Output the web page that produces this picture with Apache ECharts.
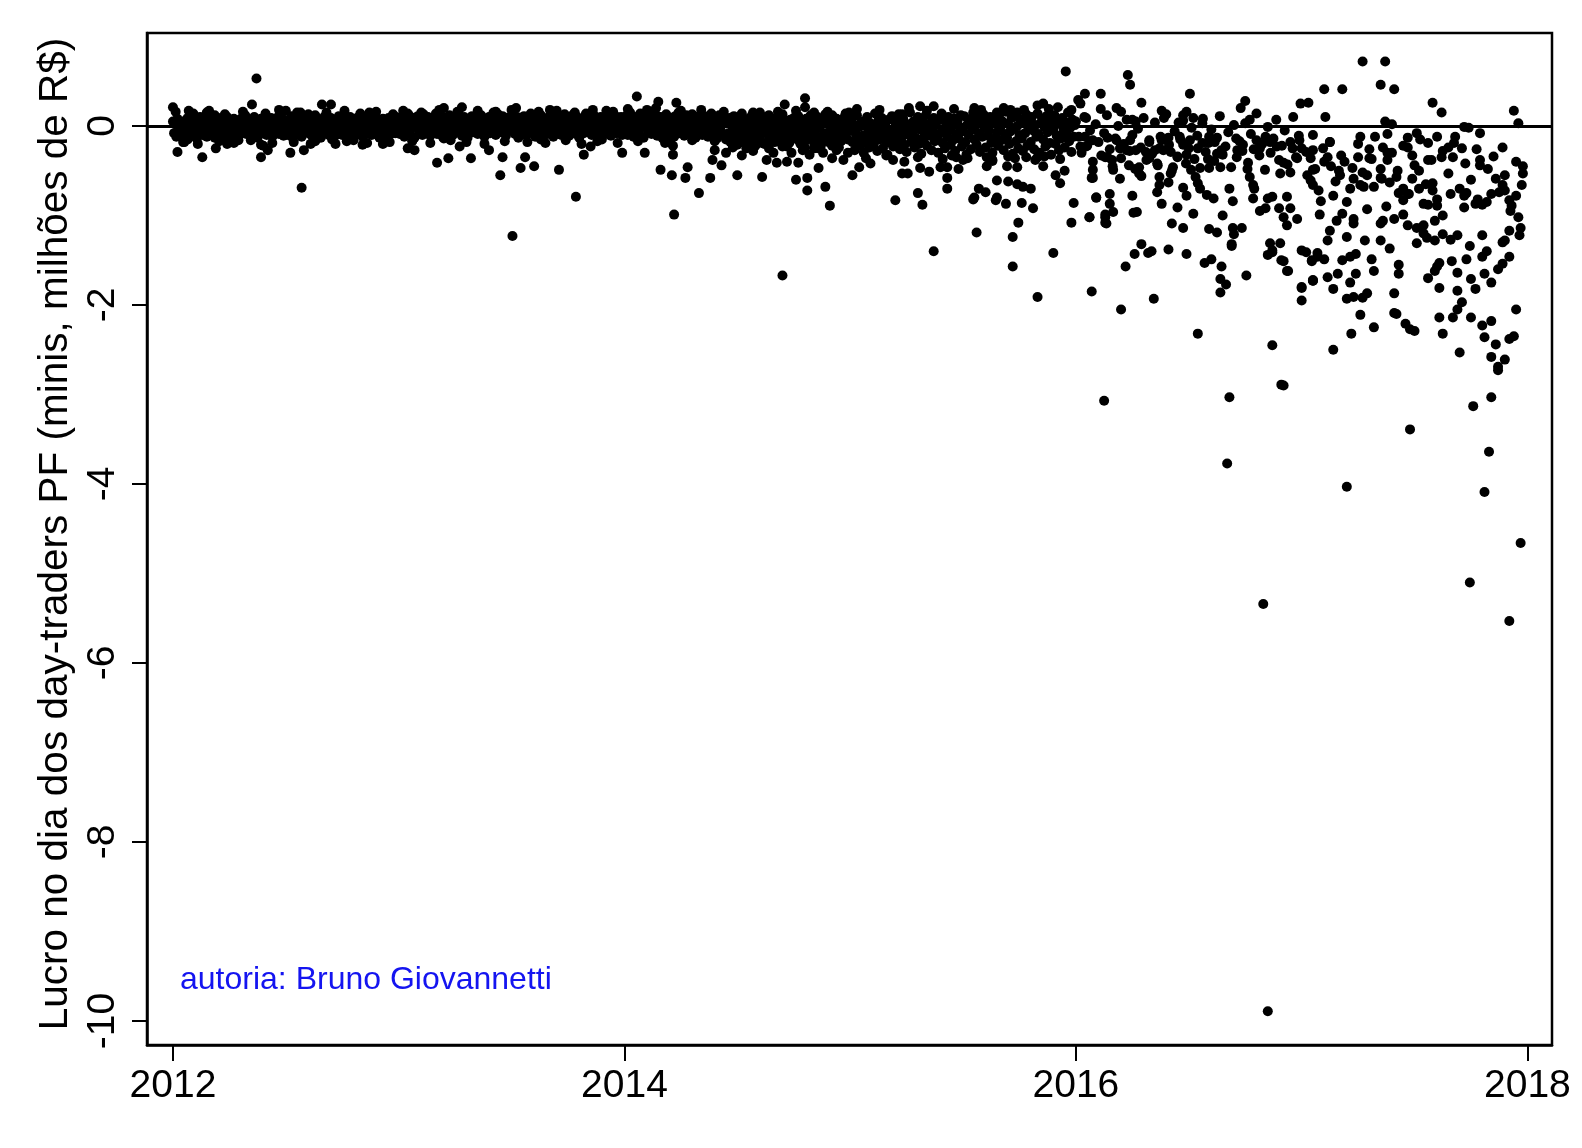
<!DOCTYPE html>
<html><head><meta charset="utf-8">
<script src="https://cdn.jsdelivr.net/npm/echarts@6/dist/echarts.min.js"></script>
<style>html,body{margin:0;padding:0;background:#fff}#c{width:1582px;height:1148px}</style>
</head><body><div id="c"></div>
<script>
const xTicks=[2012,2014,2016,2018];
const yTicks=[0,-2,-4,-6,-8,-10];
const yTitle='Lucro no dia dos day-traders PF (minis, milhões de R$)';
const credit='autoria: Bruno Giovannetti';

const band2012=[
[2012,0.05],[2012.005,-0.08],[2012.01,0.02],[2012.015,-0.12],[2012.02,0.08],[2012.025,-0.03],[2012.03,-0.10],[2012.035,0.04],[2012.04,-0.06],[2012.045,0.00],
[2012.05,-0.13],[2012.055,0.06],[2012.06,-0.04],[2012.065,0.09],[2012.07,-0.09],[2012.075,0.01],[2012.08,-0.02],[2012.085,-0.11],[2012.09,0.07],[2012.095,-0.05],
[2012.1,0.03],[2012.105,-0.14],[2012.11,0.05],[2012.115,-0.07],[2012.12,0.10],[2012.125,-0.02],[2012.13,-0.10],[2012.135,0.04],[2012.14,-0.06],[2012.145,0.08],
[2012.15,-0.12],[2012.155,0.02],[2012.16,-0.04],[2012.165,0.11],[2012.17,-0.08],[2012.175,0.00],[2012.18,0.06],[2012.185,-0.13],[2012.19,0.03],[2012.195,-0.05],
[2012.2,0.09],[2012.205,-0.09],[2012.21,0.01],[2012.215,-0.02],[2012.22,0.07],[2012.225,-0.11],[2012.23,0.04],[2012.235,-0.06],[2012.24,0.10],[2012.245,-0.03],
[2012.25,-0.14],[2012.255,0.05],[2012.26,-0.08],[2012.265,0.02],[2012.27,0.08],[2012.275,-0.10],[2012.28,-0.01],[2012.285,0.06],[2012.29,-0.12],[2012.295,0.03],
[2012.3,-0.05],[2012.305,0.09],[2012.31,-0.07],[2012.315,0.00],[2012.32,0.12],[2012.325,-0.09],[2012.33,0.04],[2012.335,-0.03],[2012.34,0.07],[2012.345,-0.11],
[2012.35,0.02],[2012.355,-0.06],[2012.36,0.10],[2012.365,-0.02],[2012.37,0.05],[2012.375,-0.13],[2012.38,0.01],[2012.385,-0.04],[2012.39,0.08],[2012.395,-0.08],
[2012.4,0.03],[2012.405,-0.01],[2012.41,0.11],[2012.415,-0.10],[2012.42,0.06],[2012.425,-0.05],[2012.43,0.00],[2012.435,0.09],[2012.44,-0.12],[2012.445,0.04],
[2012.45,-0.07],[2012.455,0.07],[2012.46,-0.03],[2012.465,0.10],[2012.47,-0.09],[2012.475,0.02],[2012.48,-0.04],[2012.485,0.08],[2012.49,-0.11],[2012.495,0.05],
[2012.5,-0.02],[2012.505,0.06],[2012.51,-0.10],[2012.515,0.03],[2012.52,-0.06],[2012.525,0.11],[2012.53,-0.13],[2012.535,0.01],[2012.54,0.07],[2012.545,-0.04],
[2012.55,0.04],[2012.555,-0.09],[2012.56,0.09],[2012.565,-0.01],[2012.57,-0.12],[2012.575,0.05],[2012.58,0.02],[2012.585,-0.07],[2012.59,0.10],[2012.595,-0.03],
[2012.6,-0.08],[2012.605,0.00],[2012.61,0.08],[2012.615,-0.11],[2012.62,0.03],[2012.625,-0.05],[2012.63,0.12],[2012.635,-0.02],[2012.64,-0.09],[2012.645,0.06],
[2012.65,0.01],[2012.655,-0.13],[2012.66,0.07],[2012.665,-0.04],[2012.67,0.10],[2012.675,-0.07],[2012.68,0.02],[2012.685,0.05],[2012.69,-0.10],[2012.695,-0.01],
[2012.7,0.09],[2012.705,-0.06],[2012.71,0.03],[2012.715,-0.12],[2012.72,0.06],[2012.725,0.00],[2012.73,-0.08],[2012.735,0.11],[2012.74,-0.03],[2012.745,0.04],
[2012.75,-0.10],[2012.755,0.08],[2012.76,-0.05],[2012.765,0.02],[2012.77,-0.14],[2012.775,0.07],[2012.78,-0.01],[2012.785,0.10],[2012.79,-0.07],[2012.795,0.03],
[2012.8,0.05],[2012.805,-0.11],[2012.81,0.00],[2012.815,0.09],[2012.82,-0.04],[2012.825,-0.09],[2012.83,0.06],[2012.835,0.01],[2012.84,-0.12],[2012.845,0.08],
[2012.85,-0.02],[2012.855,0.04],[2012.86,-0.08],[2012.865,0.11],[2012.87,-0.05],[2012.875,0.02],[2012.88,-0.10],[2012.885,0.07],[2012.89,0.00],[2012.895,-0.06],
[2012.9,0.10],[2012.905,-0.03],[2012.91,0.05],[2012.915,-0.13],[2012.92,0.03],[2012.925,-0.07],[2012.93,0.08],[2012.935,-0.01],[2012.94,0.06],[2012.945,-0.11],
[2012.95,0.02],[2012.955,0.09],[2012.96,-0.05],[2012.965,-0.09],[2012.97,0.04],[2012.975,0.00],[2012.98,0.11],[2012.985,-0.08],[2012.99,0.03],[2012.995,-0.04]];

const edge2012=[[2012.012,0.16],[2012.045,-0.18],[2012.09,0.14],[2012.11,-0.20],[2012.15,0.15],[2012.205,-0.17],[2012.23,0.13],[2012.27,-0.19],[2012.31,0.16],[2012.345,-0.16],
[2012.41,0.14],[2012.44,-0.19],[2012.5,0.17],[2012.535,-0.18],[2012.6,0.13],[2012.63,-0.17],[2012.68,0.15],[2012.72,-0.20],[2012.76,0.17],[2012.8,-0.16],
[2012.83,0.14],[2012.86,-0.19],[2012.9,0.16],[2012.95,-0.17],[2012.975,0.13],[2012.065,-0.15],[2012.185,0.12],[2012.39,-0.21],[2012.565,0.15],[2012.705,-0.15]];

const extra2012=[[2012.37,0.53],[2012.57,-0.69],[2012.02,-0.29],[2012.13,-0.35],[2012.19,-0.25],[2012.29,-0.16],[2012.39,-0.35],[2012.52,-0.30],[2012.58,-0.27],[2012.84,-0.21],
[2012.00,0.21],[2012.07,0.17],[2012.16,0.17],[2012.35,0.24],[2012.66,0.24],[2012.70,0.24],[2012.87,0.15],[2012.47,0.18],[2012.55,0.15],
[2012.40,-0.22],[2012.42,-0.27],[2012.05,-0.18],[2012.24,-0.20],[2012.61,-0.20],[2012.77,-0.17],[2012.93,-0.20]];

const band2013=[
[2013,0.03],[2013.005,-0.09],[2013.01,0.10],[2013.015,-0.02],[2013.02,0.06],[2013.025,-0.12],[2013.03,0.01],[2013.035,0.08],[2013.04,-0.05],[2013.045,0.12],
[2013.05,-0.08],[2013.055,0.04],[2013.06,-0.01],[2013.065,0.09],[2013.07,-0.13],[2013.075,0.05],[2013.08,0.00],[2013.085,0.11],[2013.09,-0.06],[2013.095,0.02],
[2013.1,0.07],[2013.105,-0.10],[2013.11,0.13],[2013.115,-0.03],[2013.12,0.04],[2013.125,-0.07],[2013.13,0.10],[2013.135,0.01],[2013.14,-0.11],[2013.145,0.06],
[2013.15,-0.02],[2013.155,0.09],[2013.16,-0.05],[2013.165,0.14],[2013.17,-0.09],[2013.175,0.03],[2013.18,0.07],[2013.185,-0.01],[2013.19,0.11],[2013.195,-0.12],
[2013.2,0.05],[2013.205,-0.04],[2013.21,0.08],[2013.215,0.00],[2013.22,-0.08],[2013.225,0.12],[2013.23,-0.03],[2013.235,0.06],[2013.24,-0.10],[2013.245,0.02],
[2013.25,0.09],[2013.255,-0.06],[2013.26,0.04],[2013.265,0.13],[2013.27,-0.02],[2013.275,0.07],[2013.28,-0.11],[2013.285,0.01],[2013.29,0.10],[2013.295,-0.05],
[2013.3,0.03],[2013.305,-0.13],[2013.31,0.08],[2013.315,-0.01],[2013.32,0.05],[2013.325,0.11],[2013.33,-0.07],[2013.335,0.02],[2013.34,-0.04],[2013.345,0.09],
[2013.35,-0.09],[2013.355,0.06],[2013.36,0.00],[2013.365,0.12],[2013.37,-0.06],[2013.375,0.03],[2013.38,-0.12],[2013.385,0.07],[2013.39,0.04],[2013.395,-0.02],
[2013.4,0.10],[2013.405,-0.08],[2013.41,0.01],[2013.415,0.06],[2013.42,-0.04],[2013.425,0.13],[2013.43,-0.10],[2013.435,0.05],[2013.44,-0.01],[2013.445,0.08],
[2013.45,-0.07],[2013.455,0.02],[2013.46,0.11],[2013.465,-0.03],[2013.47,0.04],[2013.475,-0.11],[2013.48,0.09],[2013.485,0.00],[2013.49,-0.05],[2013.495,0.07],
[2013.5,0.12],[2013.505,-0.04],[2013.51,0.06],[2013.515,-0.09],[2013.52,0.02],[2013.525,0.10],[2013.53,-0.13],[2013.535,0.04],[2013.54,-0.02],[2013.545,0.08],
[2013.55,-0.06],[2013.555,0.11],[2013.56,0.00],[2013.565,-0.10],[2013.57,0.07],[2013.575,0.03],[2013.58,-0.05],[2013.585,0.14],[2013.59,-0.08],[2013.595,0.01],
[2013.6,0.05],[2013.605,-0.12],[2013.61,0.09],[2013.615,-0.03],[2013.62,0.06],[2013.625,-0.07],[2013.63,0.12],[2013.635,0.02],[2013.64,-0.11],[2013.645,0.04],
[2013.65,-0.01],[2013.655,0.08],[2013.66,-0.09],[2013.665,0.10],[2013.67,-0.04],[2013.675,0.03],[2013.68,0.07],[2013.685,-0.12],[2013.69,0.05],[2013.695,-0.02],
[2013.7,0.11],[2013.705,-0.06],[2013.71,0.01],[2013.715,0.09],[2013.72,-0.10],[2013.725,0.06],[2013.73,-0.03],[2013.735,0.13],[2013.74,-0.07],[2013.745,0.02],
[2013.75,0.04],[2013.755,-0.11],[2013.76,0.08],[2013.765,-0.01],[2013.77,0.12],[2013.775,-0.05],[2013.78,0.03],[2013.785,-0.09],[2013.79,0.10],[2013.795,0.00],
[2013.8,-0.13],[2013.805,0.07],[2013.81,-0.02],[2013.815,0.05],[2013.82,-0.08],[2013.825,0.11],[2013.83,0.01],[2013.835,-0.06],[2013.84,0.09],[2013.845,-0.04],
[2013.85,0.06],[2013.855,-0.10],[2013.86,0.03],[2013.865,0.12],[2013.87,-0.03],[2013.875,0.08],[2013.88,-0.12],[2013.885,0.04],[2013.89,-0.01],[2013.895,0.10],
[2013.9,-0.07],[2013.905,0.02],[2013.91,0.09],[2013.915,-0.05],[2013.92,0.13],[2013.925,-0.09],[2013.93,0.06],[2013.935,0.00],[2013.94,-0.11],[2013.945,0.05],
[2013.95,0.08],[2013.955,-0.03],[2013.96,0.11],[2013.965,-0.08],[2013.97,0.01],[2013.975,0.07],[2013.98,-0.04],[2013.985,0.10],[2013.99,-0.10],[2013.995,0.03]];

const edge2013=[[2013.02,0.17],[2013.06,-0.17],[2013.1,0.15],[2013.14,-0.19],[2013.18,0.18],[2013.23,-0.16],[2013.26,0.16],[2013.3,-0.18],[2013.35,0.17],[2013.38,-0.20],
[2013.42,0.15],[2013.47,-0.17],[2013.5,0.18],[2013.57,-0.18],[2013.62,0.16],[2013.65,-0.19],[2013.7,0.17],[2013.74,-0.16],[2013.78,0.15],[2013.81,-0.20],
[2013.86,0.18],[2013.88,-0.17],[2013.95,0.16],[2013.97,-0.19],[2013.04,0.14],[2013.2,-0.14],[2013.44,0.13],[2013.63,-0.15],[2013.83,0.14],[2013.9,-0.15]];

const extra2013=[[2013.785,-0.79],[2013.45,-0.55],[2013.17,-0.41],[2013.22,-0.36],[2013.32,-0.36],[2013.46,-0.35],[2013.56,-0.35],[2013.54,-0.47],[2013.60,-0.45],[2013.71,-0.49],
[2013.82,-0.32],[2013.99,-0.30],[2013.04,-0.25],[2013.07,-0.27],[2013.40,-0.27],[2012.96,-0.18],[2013.27,-0.23],[2013.85,-0.23],[2013.52,0.20],[2013.67,0.18],
[2013.20,0.20],[2013.92,0.17],[2013.28,0.21],[2013.43,0.16],[2013.504,-1.23]];

const band2014=[
[2014,0.08],[2014.005,-0.05],[2014.01,0.12],[2014.015,-0.10],[2014.02,0.03],[2014.025,0.15],[2014.03,-0.02],[2014.035,0.06],[2014.04,-0.12],[2014.045,0.10],
[2014.05,-0.04],[2014.055,0.09],[2014.06,0.01],[2014.065,-0.08],[2014.07,0.14],[2014.075,-0.01],[2014.08,0.05],[2014.085,-0.13],[2014.09,0.07],[2014.095,0.02],
[2014.1,0.11],[2014.105,-0.06],[2014.11,0.04],[2014.115,0.16],[2014.12,-0.09],[2014.125,0.00],[2014.13,0.08],[2014.135,-0.03],[2014.14,0.12],[2014.145,-0.11],
[2014.15,0.05],[2014.155,-0.07],[2014.16,0.10],[2014.165,0.02],[2014.17,-0.14],[2014.175,0.07],[2014.18,-0.02],[2014.185,0.13],[2014.19,-0.05],[2014.195,0.03],
[2014.2,-0.10],[2014.205,0.09],[2014.21,0.00],[2014.215,0.06],[2014.22,-0.12],[2014.225,0.11],[2014.23,-0.04],[2014.235,0.04],[2014.24,0.15],[2014.245,-0.08],
[2014.25,0.02],[2014.255,-0.01],[2014.26,0.09],[2014.265,-0.11],[2014.27,0.06],[2014.275,0.12],[2014.28,-0.06],[2014.285,0.01],[2014.29,-0.09],[2014.295,0.08],
[2014.3,0.13],[2014.305,-0.03],[2014.31,0.04],[2014.315,-0.13],[2014.32,0.10],[2014.325,0.00],[2014.33,-0.07],[2014.335,0.07],[2014.34,0.03],[2014.345,-0.10],
[2014.35,0.06],[2014.355,0.11],[2014.36,-0.05],[2014.365,0.02],[2014.37,-0.12],[2014.375,0.09],[2014.38,-0.02],[2014.385,0.14],[2014.39,-0.08],[2014.395,0.04],
[2014.4,-0.01],[2014.405,0.08],[2014.41,-0.14],[2014.415,0.05],[2014.42,0.12],[2014.425,-0.06],[2014.43,0.01],[2014.435,-0.10],[2014.44,0.10],[2014.445,0.03],
[2014.45,-0.15],[2014.455,0.04],[2014.46,-0.08],[2014.465,0.09],[2014.47,-0.18],[2014.475,0.01],[2014.48,-0.05],[2014.485,0.11],[2014.49,-0.12],[2014.495,-0.02],
[2014.5,0.06],[2014.505,-0.16],[2014.51,0.02],[2014.515,-0.09],[2014.52,0.10],[2014.525,-0.04],[2014.53,-0.19],[2014.535,0.05],[2014.54,-0.11],[2014.545,0.00],
[2014.55,0.08],[2014.555,-0.14],[2014.56,-0.03],[2014.565,0.12],[2014.57,-0.07],[2014.575,-0.17],[2014.58,0.03],[2014.585,-0.10],[2014.59,0.07],[2014.595,-0.01],
[2014.6,-0.13],[2014.605,0.09],[2014.61,-0.06],[2014.615,0.01],[2014.62,-0.20],[2014.625,0.05],[2014.63,-0.08],[2014.635,0.11],[2014.64,-0.15],[2014.645,-0.03],
[2014.65,0.04],[2014.655,-0.11],[2014.66,0.08],[2014.665,-0.18],[2014.67,0.00],[2014.675,-0.06],[2014.68,0.10],[2014.685,-0.13],[2014.69,0.02],[2014.695,-0.09],
[2014.7,0.13],[2014.705,-0.04],[2014.71,-0.16],[2014.715,0.06],[2014.72,-0.10],[2014.725,0.02],[2014.73,-0.19],[2014.735,0.07],[2014.74,-0.07],[2014.745,-0.01],
[2014.75,0.09],[2014.755,-0.14],[2014.76,0.03],[2014.765,-0.05],[2014.77,0.11],[2014.775,-0.17],[2014.78,0.00],[2014.785,-0.09],[2014.79,0.05],[2014.795,-0.12],
[2014.8,-0.02],[2014.805,0.08],[2014.81,-0.15],[2014.815,0.04],[2014.82,-0.07],[2014.825,0.12],[2014.83,-0.11],[2014.835,0.01],[2014.84,-0.19],[2014.845,0.06],
[2014.85,-0.04],[2014.855,0.10],[2014.86,-0.13],[2014.865,-0.01],[2014.87,0.07],[2014.875,-0.16],[2014.88,0.03],[2014.885,-0.08],[2014.89,0.09],[2014.895,-0.10],
[2014.9,0.02],[2014.905,-0.18],[2014.91,0.06],[2014.915,-0.05],[2014.92,0.11],[2014.925,-0.12],[2014.93,0.00],[2014.935,-0.14],[2014.94,0.08],[2014.945,-0.03],
[2014.95,-0.09],[2014.955,0.04],[2014.96,-0.17],[2014.965,0.07],[2014.97,-0.06],[2014.975,0.10],[2014.98,-0.11],[2014.985,0.02],[2014.99,-0.15],[2014.995,0.05]];

const edge2014=[[2014.015,0.19],[2014.06,-0.17],[2014.1,0.18],[2014.14,0.20],[2014.19,-0.18],[2014.25,0.17],[2014.3,-0.16],[2014.34,0.18],[2014.4,-0.17],[2014.44,0.16],
[2014.48,-0.24],[2014.52,0.14],[2014.56,-0.23],[2014.6,0.15],[2014.64,-0.25],[2014.68,0.16],[2014.72,-0.23],[2014.76,0.17],[2014.8,-0.24],[2014.84,0.15],
[2014.87,-0.22],[2014.9,0.16],[2014.95,-0.24],[2014.98,0.14],[2014.5,-0.21],[2014.58,-0.22],[2014.7,-0.21],[2014.78,-0.20],[2014.86,-0.25],[2014.92,-0.22]];

const extra2014=[[2014.055,0.33],[2014.15,0.27],[2014.23,0.26],[2014.80,0.31],[2014.80,0.21],[2014.71,0.24],[2014.995,0.15],[2014.89,0.13],[2014.09,-0.30],[2014.16,-0.49],
[2014.21,-0.55],[2014.27,-0.58],[2014.28,-0.46],[2014.215,-0.32],[2014.33,-0.75],[2014.38,-0.58],[2014.39,-0.38],[2014.43,-0.44],[2014.40,-0.27],[2014.50,-0.55],
[2014.54,-0.25],[2014.61,-0.57],[2014.61,-0.19],[2014.63,-0.38],[2014.675,-0.41],[2014.72,-0.40],[2014.76,-0.60],[2014.81,-0.58],[2014.81,-0.72],[2014.77,-0.41],
[2014.86,-0.47],[2014.89,-0.68],[2014.91,-0.89],[2015.01,-0.55],[2015.04,-0.46],[2014.92,-0.36],[2014.97,-0.38],[2014.82,-0.32],[2014.70,-0.23],[2014.215,-0.22],
[2014.18,-0.19],[2014.22,-0.99],[2014.70,-1.67],[2014.45,-0.30],[2014.52,-0.33],[2014.57,-0.28],[2014.66,-0.30],[2014.74,-0.30],[2014.79,-0.27],[2014.84,-0.25],
[2014.88,-0.30],[2014.94,-0.27],[2014.99,-0.30],[2014.93,-0.20],[2014.57,0.15],[2014.64,0.12],[2014.92,0.12]];

const band2015=[
[2015,-0.05],[2015.005,0.08],[2015.01,-0.18],[2015.015,0.02],[2015.02,-0.27],[2015.025,-0.09],[2015.03,0.12],[2015.035,-0.14],[2015.04,-0.01],[2015.045,-0.22],
[2015.05,0.05],[2015.055,-0.11],[2015.06,-0.30],[2015.065,0.00],[2015.07,-0.16],[2015.075,0.10],[2015.08,-0.07],[2015.085,-0.24],[2015.09,0.03],[2015.095,-0.13],
[2015.1,-0.02],[2015.105,-0.20],[2015.11,0.14],[2015.115,-0.09],[2015.12,-0.28],[2015.125,0.06],[2015.13,-0.15],[2015.135,-0.04],[2015.14,0.09],[2015.145,-0.25],
[2015.15,-0.10],[2015.155,0.01],[2015.16,-0.19],[2015.165,-0.32],[2015.17,0.07],[2015.175,-0.06],[2015.18,-0.14],[2015.185,0.11],[2015.19,-0.23],[2015.195,-0.03],
[2015.2,0.04],[2015.205,-0.17],[2015.21,-0.08],[2015.215,0.13],[2015.22,-0.26],[2015.225,-0.01],[2015.23,-0.12],[2015.235,0.08],[2015.24,-0.21],[2015.245,-0.05],
[2015.25,-0.29],[2015.255,0.02],[2015.26,-0.10],[2015.265,0.15],[2015.27,-0.18],[2015.275,-0.07],[2015.28,0.05],[2015.285,-0.24],[2015.29,-0.13],[2015.295,0.00],
[2015.3,0.10],[2015.305,-0.20],[2015.31,-0.04],[2015.315,-0.31],[2015.32,0.06],[2015.325,-0.15],[2015.33,-0.09],[2015.335,0.12],[2015.34,-0.22],[2015.345,-0.02],
[2015.35,-0.11],[2015.355,0.03],[2015.36,-0.27],[2015.365,-0.06],[2015.37,0.09],[2015.375,-0.17],[2015.38,0.01],[2015.385,-0.13],[2015.39,-0.30],[2015.395,0.07],
[2015.4,-0.08],[2015.405,0.14],[2015.41,-0.19],[2015.415,-0.03],[2015.42,-0.25],[2015.425,0.04],[2015.43,-0.12],[2015.435,0.10],[2015.44,-0.05],[2015.445,-0.21],
[2015.45,0.00],[2015.455,-0.16],[2015.46,0.08],[2015.465,-0.28],[2015.47,-0.09],[2015.475,0.05],[2015.48,-0.14],[2015.485,-0.01],[2015.49,0.12],[2015.495,-0.23],
[2015.5,-0.06],[2015.505,0.11],[2015.51,-0.18],[2015.515,-0.32],[2015.52,0.02],[2015.525,-0.10],[2015.53,0.07],[2015.535,-0.26],[2015.54,-0.04],[2015.545,0.15],
[2015.55,-0.15],[2015.555,0.01],[2015.56,-0.21],[2015.565,0.09],[2015.57,-0.08],[2015.575,-0.29],[2015.58,0.04],[2015.585,-0.12],[2015.59,0.13],[2015.595,-0.02],
[2015.6,-0.24],[2015.605,0.06],[2015.61,-0.11],[2015.615,-0.05],[2015.62,0.10],[2015.625,-0.19],[2015.63,-0.30],[2015.635,0.03],[2015.64,-0.14],[2015.645,0.08],
[2015.65,-0.07],[2015.655,-0.22],[2015.66,0.12],[2015.665,-0.01],[2015.67,-0.16],[2015.675,0.05],[2015.68,-0.27],[2015.685,-0.09],[2015.69,0.16],[2015.695,-0.13],
[2015.7,0.02],[2015.705,-0.20],[2015.71,-0.06],[2015.715,0.09],[2015.72,-0.31],[2015.725,-0.03],[2015.73,0.11],[2015.735,-0.17],[2015.74,0.00],[2015.745,-0.25],
[2015.75,-0.10],[2015.755,0.07],[2015.76,-0.14],[2015.765,-0.28],[2015.77,0.04],[2015.775,-0.08],[2015.78,0.13],[2015.785,-0.22],[2015.79,-0.02],[2015.795,0.06],
[2015.8,-0.18],[2015.805,0.10],[2015.81,-0.05],[2015.815,-0.26],[2015.82,0.01],[2015.825,-0.12],[2015.83,0.14],[2015.835,-0.09],[2015.84,-0.30],[2015.845,0.03],
[2015.85,0.08],[2015.855,-0.15],[2015.86,-0.01],[2015.865,-0.23],[2015.87,0.11],[2015.875,-0.07],[2015.88,0.05],[2015.885,-0.19],[2015.89,-0.32],[2015.895,0.00],
[2015.9,-0.04],[2015.905,0.12],[2015.91,-0.20],[2015.915,-0.11],[2015.92,0.06],[2015.925,-0.27],[2015.93,0.02],[2015.935,-0.14],[2015.94,0.09],[2015.945,-0.06],
[2015.95,-0.24],[2015.955,0.04],[2015.96,-0.09],[2015.965,0.15],[2015.97,-0.17],[2015.975,-0.02],[2015.98,-0.29],[2015.985,0.07],[2015.99,-0.12],[2015.995,0.01]];

const edge2015=[[2015.03,0.19],[2015.07,-0.36],[2015.13,0.18],[2015.19,-0.38],[2015.26,0.20],[2015.3,-0.35],[2015.34,0.17],[2015.41,-0.37],[2015.46,0.19],[2015.52,-0.36],
[2015.58,0.18],[2015.63,-0.39],[2015.68,0.20],[2015.73,-0.36],[2015.77,0.18],[2015.82,-0.38],[2015.88,0.19],[2015.93,-0.37],[2015.98,0.18],[2015.16,-0.33],
[2015.45,-0.33],[2015.7,-0.34],[2015.86,-0.34]];

const extra2015=[[2015.955,0.61],[2016.04,0.36],[2016.11,0.36],[2016.11,0.19],[2016.01,0.29],[2016.02,0.25],[2015.55,0.20],[2015.31,0.22],[2015.37,0.22],[2015.23,0.13],
[2015.65,0.15],[2015.71,0.18],[2015.74,0.15],[2015.83,0.23],[2015.855,0.25],[2015.92,0.21],[2015.97,0.15],
[2015.20,-0.83],[2015.30,-0.75],[2015.32,-0.88],[2015.37,-1.40],[2015.43,-0.58],[2015.43,-0.70],[2015.55,-0.80],[2015.56,-1.19],[2015.57,-0.70],[2015.60,-0.74],
[2015.65,-0.80],[2015.69,-0.87],[2015.65,-0.61],[2015.70,-0.62],[2015.74,-0.65],[2015.765,-0.68],[2015.80,-0.70],[2015.76,-0.86],[2015.81,-0.92],[2015.745,-1.08],
[2015.72,-1.24],[2015.90,-1.42],[2015.98,-1.08],[2015.99,-0.86],[2016.06,-1.02],[2016.09,-0.80],[2016.07,-0.58],[2016.075,-0.49],[2016.13,-0.99],[2016.13,-1.08],
[2015.43,-0.46],[2015.48,-0.48],[2015.605,-0.45],[2015.695,-0.45],[2015.74,-0.46],[2015.78,-0.35],[2015.855,-0.45],[2015.91,-0.55],[2015.93,-0.64],[2015.23,-0.53],
[2015.255,-0.53],[2015.31,-0.47],[2015.35,-0.51],[2015.40,-0.46],[2015.09,-0.42],[2015.24,-0.40],[2015.47,-0.35],[2015.50,-0.38],[2015.605,-0.35],[2015.63,-0.38],
[2015.83,-0.35],[2015.95,-0.50],[2016.02,-0.23],[2016.14,-0.35],[2015.72,-1.57],[2015.545,-0.82],[2015.645,-0.83],[2015.83,-1.91]];

const band2016=[
[2016,0.05],[2016.0125,-0.12],[2016.025,-0.30],[2016.0375,0.10],[2016.05,-0.22],[2016.0625,-0.05],[2016.075,-0.40],[2016.0875,0.02],[2016.1,-0.18],[2016.1125,-0.33],
[2016.125,-0.08],[2016.1375,0.12],[2016.15,-0.26],[2016.1625,-0.45],[2016.175,-0.14],[2016.1875,0.00],[2016.2,-0.36],[2016.2125,-0.20],[2016.225,0.07],[2016.2375,-0.28],
[2016.25,-0.10],[2016.2625,-0.48],[2016.275,-0.03],[2016.2875,-0.24],[2016.3,0.09],[2016.3125,-0.38],[2016.325,-0.16],[2016.3375,-0.31],[2016.35,0.04],[2016.3625,-0.44],
[2016.375,-0.12],[2016.3875,-0.27],[2016.4,0.13],[2016.4125,-0.21],[2016.425,-0.50],[2016.4375,-0.06],[2016.45,-0.34],[2016.4625,-0.15],[2016.475,0.06],[2016.4875,-0.42],
[2016.5,-0.25],[2016.5125,-0.02],[2016.525,-0.37],[2016.5375,-0.11],[2016.55,-0.47],[2016.5625,0.08],[2016.575,-0.29],[2016.5875,-0.19],[2016.6,-0.04],[2016.6125,-0.39],
[2016.625,-0.13],[2016.6375,0.11],[2016.65,-0.32],[2016.6625,-0.23],[2016.675,-0.07],[2016.6875,-0.46],[2016.7,0.01],[2016.7125,-0.35],[2016.725,-0.17],[2016.7375,-0.28],
[2016.75,0.03],[2016.7625,-0.41],[2016.775,-0.09],[2016.7875,-0.26],[2016.8,0.14],[2016.8125,-0.33],[2016.825,-0.20],[2016.8375,-0.49],[2016.85,-0.01],[2016.8625,-0.30],
[2016.875,-0.14],[2016.8875,0.07],[2016.9,-0.38],[2016.9125,-0.22],[2016.925,-0.05],[2016.9375,-0.43],[2016.95,-0.18],[2016.9625,0.10],[2016.975,-0.35],[2016.9875,-0.11]];

const extra2016=[[2016.23,0.57],[2016.24,0.46],[2016.18,0.20],[2016.20,0.16],[2016.29,0.26],[2016.38,0.17],[2016.39,0.09],[2016.505,0.36],[2016.49,0.16],[2016.475,0.12],
[2016.455,0.04],[2016.52,0.09],[2016.25,0.07],[2016.265,0.05],[2016.045,0.09],[2016.75,0.28],[2016.73,0.20],[2016.77,0.07],[2017.03,0.26],[2016.56,0.03],
[2016.04,-0.12],[2016.075,-0.16],[2016.045,-0.23],[2016.14,-0.13],[2016.18,-0.16],[2016.13,-0.35],[2016.16,-0.38],[2016.24,-0.16],[2016.195,-0.25],[2016.225,-0.27],
[2016.265,-0.27],[2016.235,-0.44],[2016.28,-0.46],[2016.28,-0.53],[2016.31,-0.29],[2016.325,-0.18],[2016.35,-0.27],[2016.37,-0.25],[2016.38,-0.16],[2016.325,-0.36],
[2016.36,-0.42],[2016.37,-0.57],[2016.37,-0.66],[2016.36,-0.74],[2016.41,-0.13],[2016.42,-0.29],[2016.45,-0.35],[2016.43,-0.46],[2016.42,-0.53],[2016.41,-0.63],
[2016.46,-0.12],[2016.475,-0.21],[2016.49,-0.32],[2016.505,-0.16],[2016.51,-0.49],[2016.53,-0.57],[2016.55,-0.70],[2016.54,-0.64],[2016.54,-0.25],[2016.56,-0.19],
[2016.59,-0.12],[2016.615,-0.18],[2016.585,-0.37],[2016.625,-0.31],[2016.645,-0.27],[2016.64,-0.46],[2016.59,-0.47],[2016.58,-0.77],[2016.61,-0.81],[2016.68,-0.70],
[2016.65,-1.00],[2016.695,-0.84],[2016.695,-1.14],[2016.70,-1.21],[2016.69,-1.32],[2016.735,-1.14],[2016.71,-0.14],[2016.715,-0.27],[2016.74,-0.21],[2016.76,-0.48],
[2016.77,-0.57],[2016.785,-0.66],[2016.79,-0.70],[2016.785,-0.81],[2016.80,-0.16],[2016.815,-0.25],[2016.84,-0.12],[2016.86,-0.18],[2016.89,-0.23],[2016.815,-0.95],
[2016.84,-0.92],[2016.85,-0.81],[2016.87,-0.79],[2016.90,-0.92],[2016.92,-1.02],[2016.935,-1.11],[2016.905,-1.31],[2016.935,-0.79],[2016.95,-0.92],[2016.98,-1.04],
[2016.905,-0.53],[2016.92,-0.41],[2016.95,-0.52],[2016.96,-0.25],[2016.98,-0.36],[2016.99,-0.16],[2017.02,-0.29],[2017.04,-0.36],[2017.05,-0.49],[2017.04,-0.61],
[2017.05,-0.66],[2017.00,-1.39],[2017.045,-1.50],[2017.07,-1.42],[2017.05,-1.73],[2017.00,-1.81],[2017.00,-1.95],[2016.86,-1.31],[2016.87,-1.39],[2016.91,-1.50],
[2016.935,-1.62],[2016.07,-1.85],[2016.20,-2.05],[2016.345,-1.93],[2016.54,-2.32],[2016.87,-2.45],[2016.22,-1.57],[2016.26,-1.43],[2016.29,-1.32],[2016.32,-1.42],
[2016.335,-1.40],[2016.41,-1.38],[2016.49,-1.43],[2016.57,-1.53],[2016.60,-1.49],[2016.645,-1.57],[2016.64,-1.71],[2016.665,-1.77],[2016.64,-1.86],[2016.755,-1.67],
[2016.075,-0.58],[2016.09,-0.80],[2016.06,-1.02],[2016.15,-0.76],[2016.15,-0.87],[2016.165,-0.96],[2016.13,-1.02],[2016.135,-1.09],[2016.165,-0.49],[2016.195,-0.59],
[2016.25,-0.78],[2016.255,-0.97],[2016.27,-0.96],[2016.29,-0.56],[2016.38,-0.87],[2016.425,-1.09],[2016.45,-0.91],[2016.475,-1.14],[2016.52,-0.98],[2016.59,-1.15],
[2016.625,-1.19],[2016.69,-1.34],[2016.49,-0.78],[2016.475,-0.69],
[2016.125,-3.07],[2016.68,-3.03],[2016.67,-3.77],[2016.92,-2.90],[2016.91,-2.89],[2016.83,-5.34],[2016.85,-9.89],[2016.85,-1.44],[2016.87,-1.41],[2016.92,-1.51],
[2016.94,-1.62],[2017.00,-1.80],[2017.02,-1.41],[2017.045,-1.51],[2017.05,-1.73]];

const band2017=[
[2017,-0.25],[2017.025,-0.55],[2017.05,-0.10],[2017.075,-0.72],[2017.1,-0.40],[2017.125,-0.18],[2017.15,-0.62],[2017.175,-0.33],[2017.2,-0.85],[2017.225,-0.47],
[2017.25,-0.20],[2017.275,-0.68],[2017.3,-0.36],[2017.325,-0.12],[2017.35,-0.58],[2017.375,-0.90],[2017.4,-0.30],[2017.425,-0.50],[2017.45,-0.22],[2017.475,-0.76],
[2017.5,-0.44],[2017.525,-0.15],[2017.55,-0.65],[2017.575,-0.38],[2017.6,-0.82],[2017.625,-0.28],[2017.65,-0.53],[2017.675,-0.19],[2017.7,-0.70],[2017.725,-0.42],
[2017.75,-0.60],[2017.775,-0.26],[2017.8,-0.88],[2017.825,-0.48],[2017.85,-0.34],[2017.875,-0.74],[2017.9,-0.55],[2017.925,-0.95],[2017.95,-0.40],[2017.975,-0.66]];

const extra2017=[[2017.27,0.72],[2017.37,0.72],[2017.10,0.41],[2017.18,0.41],[2017.35,0.46],[2017.41,0.41],[2017.105,0.10],[2017.58,0.26],[2017.62,0.15],[2017.94,0.17],
[2017.96,0.03],[2017.37,0.05],[2017.40,0.02],[2016.995,0.25],
[2017.26,-0.12],[2017.38,-0.09],[2017.47,-0.13],[2017.51,-0.08],[2017.56,-0.19],[2017.60,-0.12],[2017.68,-0.12],[2017.72,-0.01],[2017.74,-0.02],[2017.79,-0.08],
[2017.89,-0.24],[2017.125,-0.18],[2017.095,-0.25],[2017.05,-0.27],[2017.30,-0.26],[2017.36,-0.24],[2017.38,-0.30],[2017.38,-0.38],[2017.47,-0.24],[2017.49,-0.33],
[2017.56,-0.38],[2017.65,-0.24],[2017.62,-0.35],[2017.67,-0.35],[2017.71,-0.25],[2017.79,-0.38],[2017.79,-0.44],[2017.98,-0.45],[2017.98,-0.53],[2017.115,-0.35],
[2017.13,-0.45],[2017.06,-0.48],[2017.165,-0.50],[2017.17,-0.55],[2017.19,-0.40],[2017.25,-0.35],[2017.31,-0.37],[2017.27,-0.52],[2017.23,-0.59],[2017.215,-0.70],
[2017.26,-0.66],[2017.29,-0.55],[2017.32,-0.68],[2017.35,-0.48],[2017.355,-0.59],[2017.39,-0.63],[2017.42,-0.57],[2017.43,-0.75],[2017.45,-0.70],[2017.47,-0.76],
[2017.45,-0.83],[2017.49,-0.59],[2017.52,-0.50],[2017.52,-0.70],[2017.54,-0.87],[2017.56,-0.88],[2017.58,-0.72],[2017.58,-0.64],[2017.60,-0.89],[2017.625,-1.00],
[2017.66,-0.76],[2017.72,-0.78],[2017.73,-0.75],[2017.72,-0.91],[2017.77,-0.87],[2017.78,-0.82],[2017.82,-0.85],[2017.84,-0.76],[2017.86,-0.59],[2017.89,-0.66],
[2017.90,-0.72],[2017.92,-0.83],[2017.93,-0.89],[2017.95,-0.78],[2017.92,-1.17],[2017.96,-1.02],[2017.97,-1.14],[2017.965,-1.22],[2017.90,-1.28],[2017.89,-1.30],
[2017.92,-1.46],[2017.80,-1.22],[2017.82,-1.40],[2017.80,-1.46],[2017.745,-1.34],[2017.89,-1.54],[2017.87,-1.60],[2017.84,-1.75],[2017.81,-1.65],[2017.75,-1.71],
[2017.77,-1.82],[2017.71,-1.97],[2017.69,-2.05],[2017.67,-2.14],[2017.75,-2.14],[2017.80,-2.23],[2017.84,-2.18],[2017.81,-2.36],[2017.86,-2.44],[2017.84,-2.58],
[2017.87,-2.69],[2017.90,-2.61],[2017.92,-2.38],[2017.94,-2.35],[2017.95,-2.05],[2017.70,-2.53],[2017.625,-2.32],[2017.61,-2.14],[2017.69,-1.84],[2017.61,-1.81],
[2017.56,-1.70],[2017.60,-1.57],[2017.665,-1.51],[2017.69,-1.64],[2017.73,-1.49],[2017.625,-1.21],[2017.69,-1.22],[2017.51,-1.14],[2017.54,-1.20],[2017.555,-1.25],
[2017.59,-1.28],[2017.51,-1.31],[2017.47,-1.11],[2017.43,-1.55],[2017.43,-1.65],[2017.41,-1.87],[2017.42,-2.10],[2017.46,-2.21],[2017.48,-2.27],[2017.50,-2.29],
[2017.32,-2.25],[2017.26,-2.11],[2017.22,-2.32],[2017.14,-2.50],[2017.27,-1.92],[2017.29,-1.87],[2017.23,-1.91],[2017.20,-1.93],[2017.215,-1.75],[2017.14,-1.82],
[2017.115,-1.69],[2017.16,-1.65],[2017.24,-1.65],[2017.05,-1.72],[2017.18,-1.50],[2017.215,-1.46],[2017.24,-1.43],[2017.31,-1.49],[2017.32,-1.62],[2017.07,-1.46],
[2017.10,-1.49],[2017.39,-1.37],[2017.28,-1.28],[2017.35,-1.28],[2017.115,-1.28],[2017.125,-1.17],[2017.20,-1.24],[2017.29,-0.93],[2017.23,-1.04],[2017.23,-1.09],
[2017.155,-1.06],[2017.18,-0.98],[2017.08,-0.99],[2017.085,-0.84],[2017.14,-0.78],[2017.35,-1.09],[2017.36,-1.06],[2017.41,-1.04],[2017.45,-0.99],[2017.54,-1.11],
[2017.59,-1.06],[2017.66,-1.27],[2017.61,-1.53],[2017.59,-1.62],[2017.41,-2.09],
[2017.87,-2.73],[2017.84,-3.03],[2017.76,-3.13],[2017.48,-3.39],[2017.83,-3.64],[2017.20,-4.03],[2017.81,-4.09],[2017.97,-4.66],[2017.745,-5.10],[2017.92,-5.53]];

const points=[].concat(band2012,edge2012,extra2012,band2013,edge2013,extra2013,band2014,edge2014,extra2014,band2015,edge2015,extra2015,band2016,extra2016,band2017,extra2017);

const FONT='"Liberation Sans", Arial, Helvetica, sans-serif';
const chart=echarts.init(document.getElementById('c'),null,{renderer:'canvas'});
chart.setOption({
  animation:false,
  backgroundColor:'#fff',
  grid:{left:147,right:30,top:33,bottom:103,show:true,borderColor:'#000',borderWidth:2.5,backgroundColor:'#fff'},
  xAxis:{type:'value',min:2011.885,max:2018.109,
    axisLine:{show:true,onZero:false,lineStyle:{color:'#000',width:2.5}},
    axisTick:{show:true,length:16,customValues:xTicks,lineStyle:{color:'#000',width:2}},
    axisLabel:{show:true,customValues:xTicks,fontSize:39,color:'#000',fontFamily:FONT,margin:22,formatter:v=>String(v)},
    splitLine:{show:false}},
  yAxis:{type:'value',min:-10.268,max:1.039,
    name:yTitle,nameLocation:'middle',nameGap:52,nameRotate:90,
    nameTextStyle:{fontSize:40.5,color:'#000',fontFamily:FONT,padding:[0,0,0,10]},
    axisLine:{show:true,onZero:false,lineStyle:{color:'#000',width:2.5}},
    axisTick:{show:true,length:15,customValues:yTicks,lineStyle:{color:'#000',width:2}},
    axisLabel:{show:true,customValues:yTicks,rotate:90,fontSize:39,color:'#000',fontFamily:FONT,margin:24,formatter:v=>String(v)},
    splitLine:{show:false}},
  series:[{type:'scatter',data:points,symbol:'circle',symbolSize:10,itemStyle:{color:'#000',opacity:1},
    markLine:{silent:true,symbol:'none',label:{show:false},lineStyle:{color:'#000',width:3,type:'solid'},data:[{yAxis:0}]},
    z:2}],
  graphic:[{type:'text',left:180,top:964,z:10,style:{text:credit,fill:'#1414f0',font:'32px '+FONT}}]
});
</script></body></html>
